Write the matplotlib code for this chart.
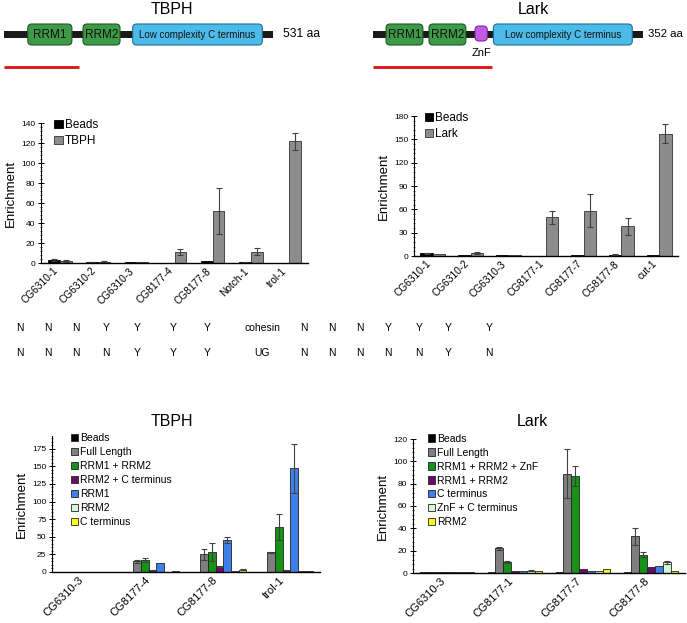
import numpy as np
import matplotlib
matplotlib.use("Agg")
from matplotlib import pyplot as plt
from matplotlib.patches import FancyBboxPatch, Rectangle
from matplotlib.ticker import MultipleLocator

plt.rcParams['font.family'] = ['Liberation Sans', 'DejaVu Sans']

W, H = 687, 623

# ---- data ----
# domain maps (aa)
tbph_len = 531
tbph_domains = [("RRM1", 47, 134, "rrm"), ("RRM2", 156, 229, "rrm"),
                ("Low complexity C terminus", 254, 510, "lc")]
tbph_fragment = (0, 148)
lark_len = 352
lark_domains = [("RRM1", 17, 65, "rrm"), ("RRM2", 73, 121, "rrm"),
                ("", 133, 149, "znf"),
                ("Low complexity C terminus", 157, 338, "lc")]
lark_fragment = (0, 155)

# top row ChIP
tbph_sites = ["CG6310-1", "CG6310-2", "CG6310-3", "CG8177-4", "CG8177-8", "Notch-1", "trol-1"]
tbph_beads = [3, 1, 1, 0.5, 2, 0.8, 0.5]
tbph_beads_err = [0.8, 0.3, 0, 0, 0, 0.4, 0]
tbph_vals = [2, 1.5, 1, 11, 52, 11.5, 122]
tbph_err = [0.8, 1, 0, 3, 23, 3.5, 8.5]

lark_sites = ["CG6310-1", "CG6310-2", "CG6310-3", "CG8177-1", "CG8177-7", "CG8177-8", "cut-1"]
lark_beads = [3.5, 1, 1, 0.5, 1, 1.5, 1]
lark_beads_err = [0.8, 0, 0, 0, 0, 0.5, 0]
lark_vals = [2.5, 4, 1, 50, 58.5, 38, 157.5]
lark_err = [0, 1, 0, 8.5, 21, 11, 12]

tbph_cohesin = ["N", "N", "N", "Y", "Y", "Y", "Y"]
tbph_ug = ["N", "N", "N", "N", "Y", "Y", "Y"]
lark_cohesin = ["N", "N", "N", "Y", "Y", "Y", "Y"]
lark_ug = ["N", "N", "N", "N", "N", "Y", "N"]

# bottom row: truncations
tbph2_sites = ["CG6310-3", "CG8177-4", "CG8177-8", "trol-1"]
tbph2_labels = ["Beads", "Full Length", "RRM1 + RRM2", "RRM2 + C terminus", "RRM1", "RRM2", "C terminus"]
tbph2_vals = [
    [0.5, 0.5, 0.5, 0.5],
    [0.5, 15, 25, 28],
    [0.5, 17.5, 28, 64],
    [0.5, 2.5, 8, 2.5],
    [0.5, 12.5, 45, 147],
    [0.5, 0.5, 2, 1.5],
    [0.5, 1, 3.5, 1.5],
]
tbph2_err = [
    [0, 0, 0, 0],
    [0, 2, 8, 1],
    [0, 3, 13, 18],
    [0, 0.5, 1, 0.5],
    [0, 0, 4, 35],
    [0, 0, 0, 0],
    [0, 0, 0.5, 0],
]

lark2_sites = ["CG6310-3", "CG8177-1", "CG8177-7", "CG8177-8"]
lark2_labels = ["Beads", "Full Length", "RRM1 + RRM2 + ZnF", "RRM1 + RRM2", "C terminus", "ZnF + C terminus", "RRM2"]
lark2_vals = [
    [0.5, 1, 0.5, 0.5],
    [0.5, 22, 89, 33],
    [0.5, 10, 86.5, 16.5],
    [0.5, 2, 3.5, 5.5],
    [0.5, 1.5, 1.5, 6],
    [0.5, 2, 1.5, 9.5],
    [0.5, 1.5, 3.5, 2],
]
lark2_err = [
    [0, 0, 0, 0],
    [0, 1.5, 22, 7.5],
    [0, 1, 9, 2.5],
    [0, 0, 0, 0],
    [0, 0, 0, 0],
    [0, 0.5, 0, 1.5],
    [0, 0, 0, 0],
]

trunc_colors = ["#000000", "#7f7f7f", "#169216", "#6a0a6a", "#3f80e8", "#d6f5d6", "#ffff1a"]


def fax(l, t, r, b):
    # pixel box (left, top, right, bottom) -> figure axes
    return fig.add_axes([l / W, 1 - b / H, (r - l) / W, (b - t) / H])


def draw_domains(ax, length, domains, fragment, gap, fs_len):
    ax.set_xlim(0, length)
    ax.set_ylim(75, 0)
    ax.axis("off")
    sx = length / 270.0
    ax.add_patch(Rectangle((0, 31), length, 6.5, color="#1a1a1a", lw=0))
    styles = {"rrm": ("#3e9a48", "#1b5a22", 24, 45),
              "lc": ("#4cbbea", "#1f6e98", 24, 45),
              "znf": ("#c25ae6", "#7a2a99", 26, 41)}
    for name, a, b, kind in domains:
        fc, ec, y0, y1 = styles[kind]
        ax.add_patch(FancyBboxPatch((a, y0), b - a, y1 - y0,
                                    boxstyle="round,pad=0,rounding_size=%f" % (4 * sx),
                                    mutation_aspect=1 / sx, fc=fc, ec=ec, lw=0.8))
        if name:
            fs = 8.5 if kind == "rrm" else 7
            ax.text((a + b) / 2, (y0 + y1) / 2 + 0.5, name, ha="center", va="center",
                    fontsize=fs, color="#111111")
    ax.plot(fragment, [67, 67], color="#e01010", lw=2, solid_capstyle="butt")
    ax.text(length + gap * sx, 34, "%d aa" % length, ha="left", va="center", fontsize=fs_len)


def bar_pairs(ax, sites, beads, beads_err, vals, err, label, width):
    x = np.arange(len(sites))
    ax.bar(x - width / 2, beads, width, color="#000000", edgecolor="#000000", lw=0.6, label="Beads")
    ax.bar(x + width / 2, vals, width, color="#8c8c8c", edgecolor="#333333", lw=0.6, label=label)
    for xs, v, e in ((x - width / 2, beads, beads_err), (x + width / 2, vals, err)):
        m = np.array(e) > 0
        ax.errorbar(xs[m], np.array(v)[m], yerr=np.array(e)[m], fmt="none",
                    ecolor="#404040", elinewidth=0.8, capsize=2.2, capthick=0.8)
    ax.set_xticks(x)
    ax.set_xticklabels(sites, rotation=45, ha="right", fontsize=7.3)
    ax.set_xlim(-0.5, len(sites) - 0.5)


def bar_groups(ax, sites, labels, vals, errs, width):
    x = np.arange(len(sites))
    n = len(labels)
    for i in range(n):
        xs = x + (i - (n - 1) / 2) * width
        ax.bar(xs, vals[i], width, color=trunc_colors[i], edgecolor="#222222", lw=0.6, label=labels[i])
        m = np.array(errs[i]) > 0
        if m.any():
            ax.errorbar(xs[m], np.array(vals[i])[m], yerr=np.array(errs[i])[m], fmt="none",
                        ecolor="#404040", elinewidth=0.8, capsize=2.2, capthick=0.8)
    ax.set_xticks(x)
    ax.set_xticklabels(sites, rotation=45, ha="right", fontsize=8)
    ax.set_xlim(-0.5, len(sites) - 0.5)


def style(ax, ymax, major, minor, tickfs):
    ax.set_ylim(0, ymax)
    ax.yaxis.set_major_locator(MultipleLocator(major))
    ax.yaxis.set_minor_locator(MultipleLocator(minor))
    for s in ("top", "right"):
        ax.spines[s].set_visible(False)
    ax.spines["left"].set_linewidth(0.8)
    ax.spines["bottom"].set_linewidth(1.0)
    ax.tick_params(axis="y", which="major", direction="inout", length=4, width=0.7, labelsize=tickfs, pad=2)
    ax.tick_params(axis="y", which="minor", direction="inout", length=2, width=0.5)
    ax.tick_params(axis="x", length=0, pad=2)
    ax.set_ylabel("Enrichment", fontsize=9.5, labelpad=3)


fig = plt.figure(figsize=(W / 100, H / 100), dpi=100)

# domain diagrams
draw_domains(fax(4, 0, 273, 75), tbph_len, tbph_domains, tbph_fragment, 10, 8.7)
draw_domains(fax(373, 0, 643, 75), lark_len, lark_domains, lark_fragment, 5, 8.2)
fig.text(172 / W, 1 - 9 / H, "TBPH", ha="center", va="center", fontsize=11.5)
fig.text(533 / W, 1 - 9 / H, "Lark", ha="center", va="center", fontsize=11.5)
fig.text(481 / W, 1 - 53 / H, "ZnF", ha="center", va="center", fontsize=8)

# top-left
ax1 = fax(41, 123, 308, 263)
bar_pairs(ax1, tbph_sites, tbph_beads, tbph_beads_err, tbph_vals, tbph_err, "TBPH", 0.31)
style(ax1, 140, 20, 4, 6)
ax1.legend(loc="upper left", bbox_to_anchor=(0.05, 1.03), frameon=False, fontsize=8.5,
           handlelength=0.7, handleheight=0.7, handletextpad=0.2, labelspacing=0.35,
           borderpad=0, borderaxespad=0)

# top-right
ax2 = fax(414, 116, 678, 256)
bar_pairs(ax2, lark_sites, lark_beads, lark_beads_err, lark_vals, lark_err, "Lark", 0.33)
style(ax2, 180, 30, 6, 6)
ax2.legend(loc="upper left", bbox_to_anchor=(0.04, 1.03), frameon=False, fontsize=8.5,
           handlelength=0.7, handleheight=0.7, handletextpad=0.2, labelspacing=0.35,
           borderpad=0, borderaxespad=0)

# cohesin / UG table
left_x = [20, 48, 76, 106, 137, 173, 207]
right_x = [304, 332, 360, 388, 419, 448, 489]
for row_y, lvals, rvals, name in ((328, tbph_cohesin, lark_cohesin, "cohesin"),
                                  (353, tbph_ug, lark_ug, "UG")):
    for px, v in zip(left_x, lvals):
        fig.text(px / W, 1 - row_y / H, v, ha="center", va="center", fontsize=7.5)
    for px, v in zip(right_x, rvals):
        fig.text(px / W, 1 - row_y / H, v, ha="center", va="center", fontsize=7.5)
    fig.text(262 / W, 1 - row_y / H, name, ha="center", va="center", fontsize=7.5)

# bottom-left
ax3 = fax(52, 436, 320, 572)
bar_groups(ax3, tbph2_sites, tbph2_labels, tbph2_vals, tbph2_err, 0.115)
style(ax3, 193, 25, 5, 6)
ax3.legend(loc="upper left", bbox_to_anchor=(0.07, 1.02), frameon=False, fontsize=7.5,
           handlelength=0.7, handleheight=0.7, handletextpad=0.2, labelspacing=0.38,
           borderpad=0, borderaxespad=0)
fig.text(172 / W, 1 - 422 / H, "TBPH", ha="center", va="center", fontsize=11.5)

# bottom-right
ax4 = fax(413, 439, 685, 573)
bar_groups(ax4, lark2_sites, lark2_labels, lark2_vals, lark2_err, 0.115)
style(ax4, 120, 20, 4, 6)
ax4.legend(loc="upper left", bbox_to_anchor=(0.055, 1.04), frameon=False, fontsize=7.5,
           handlelength=0.7, handleheight=0.7, handletextpad=0.2, labelspacing=0.38,
           borderpad=0, borderaxespad=0)
fig.text(532 / W, 1 - 422 / H, "Lark", ha="center", va="center", fontsize=11.5)

fig.savefig("out.png", dpi=100)
